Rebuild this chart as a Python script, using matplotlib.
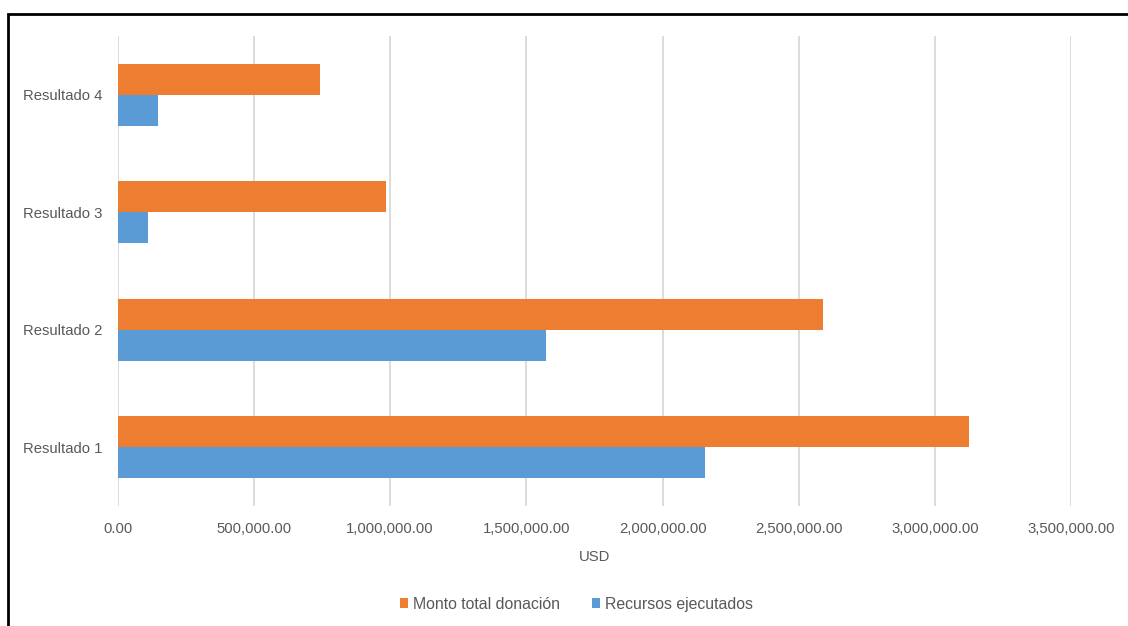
import matplotlib.pyplot as plt
import matplotlib.patches as patches
import numpy as np

categories = ["Resultado 1", "Resultado 2", "Resultado 3", "Resultado 4"]
monto_total = [3125000, 2588000, 986000, 743000]
recursos_ejecutados = [2156000, 1572000, 111000, 147000]

orange = "#ED7D31"
blue = "#5B9BD5"
gray = "#595959"

plt.rcParams['font.family'] = ['Liberation Sans', 'DejaVu Sans']

fig = plt.figure(figsize=(11.28, 6.26), dpi=100)
ax = fig.add_axes([0.1042, 0.1917, 0.8457, 0.7508])

y = np.arange(len(categories))
h = 0.265
ax.barh(y + h / 2, monto_total, height=h, color=orange, label="Monto total donación")
ax.barh(y - h / 2, recursos_ejecutados, height=h, color=blue, label="Recursos ejecutados")

ax.set_xlim(0, 3500000)
ax.set_ylim(-0.5, 3.5)
ax.set_xticks(np.arange(0, 3500001, 500000))
ax.set_xticklabels(["{:,.2f}".format(v) for v in np.arange(0, 3500001, 500000)])
ax.set_yticks(y)
ax.set_yticklabels(categories)
ax.tick_params(axis='both', length=0, colors=gray, labelsize=10.7)
ax.tick_params(axis='x', pad=11.5)
ax.tick_params(axis='y', pad=11)
ax.xaxis.grid(True, color="#D9D9D9", linewidth=1.3)
ax.set_axisbelow(True)
for s in ax.spines.values():
    s.set_visible(False)
ax.set_xlabel("USD", color=gray, fontsize=10.7, labelpad=10)

handles, labels = ax.get_legend_handles_labels()
fig.legend(handles, labels, loc='center', bbox_to_anchor=(0.511, 0.035), ncol=2,
           frameon=False, fontsize=11.4, labelcolor=gray, handlelength=0.55,
           handleheight=0.55, handletextpad=0.3, columnspacing=2.0)

fig.patches.append(patches.Rectangle((0.0071, -0.1), 1.1, 1.078, transform=fig.transFigure,
                                     fill=False, edgecolor="black", linewidth=2))

fig.savefig("out.png", dpi=100)
